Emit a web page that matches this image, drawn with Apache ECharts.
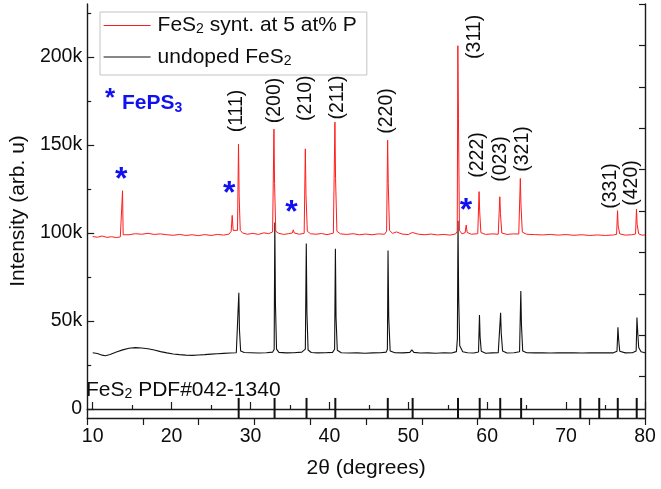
<!DOCTYPE html>
<html>
<head>
<meta charset="utf-8">
<script src="https://cdn.jsdelivr.net/npm/echarts@6/dist/echarts.min.js"></script>
<style>
  html, body { margin: 0; padding: 0; background: #fff; }
  #xrd-chart { width: 661px; height: 489px; }
</style>
</head>
<body>
<div id="xrd-chart"></div>
<script>
// 2theta (deg), intensity in thousands (k)
var redName = 'FeS2 synt. at 5 at% P';
var blackName = 'undoped FeS2';

var redData = [
  [10.0, 98.0], [10.6, 97.6], [11.2, 98.3], [11.8, 97.5], [12.4, 97.9], [13.0, 97.4], [13.5, 97.8],
  [13.7, 98.5], [13.78, 124.0], [13.86, 99.0], [14.0, 98.2], [14.6, 99.0], [15.4, 99.6], [16.2, 99.3],
  [17.0, 99.8], [17.8, 99.2], [18.6, 99.5], [19.4, 99.0], [20.2, 98.7], [21.0, 99.2], [21.8, 98.6],
  [22.6, 99.0], [23.4, 98.5], [24.2, 99.1], [25.0, 98.6], [25.8, 99.2], [26.6, 98.8], [27.3, 99.4],
  [27.55, 101.0], [27.68, 110.0], [27.8, 101.5], [28.0, 100.5], [28.35, 101.5], [28.48, 150.5], [28.56, 121.0],
  [28.7, 101.5], [29.0, 100.0], [29.6, 99.3], [30.3, 99.8], [31.0, 99.2], [31.7, 100.1], [32.3, 99.6],
  [32.8, 100.6], [32.97, 159.0], [33.05, 128.0], [33.2, 101.0], [33.6, 99.8], [34.2, 99.2], [34.8, 99.6],
  [35.3, 100.0], [35.42, 101.8], [35.55, 100.0], [36.2, 99.3], [36.8, 99.8], [36.95, 147.8], [37.03, 122.0],
  [37.2, 101.0], [37.6, 99.6], [38.3, 99.3], [39.0, 99.7], [39.7, 99.1], [40.5, 99.9], [40.7, 163.0],
  [40.78, 131.0], [40.95, 101.0], [41.4, 99.5], [42.2, 99.2], [43.0, 99.6], [43.8, 99.0], [44.6, 99.4],
  [45.4, 99.0], [46.2, 99.5], [47.0, 99.3], [47.25, 101.0], [47.38, 152.7], [47.46, 128.0], [47.62, 101.5],
  [48.0, 99.8], [48.5, 100.6], [49.2, 99.4], [50.0, 99.1], [50.5, 100.3], [51.3, 99.3], [52.1, 99.0],
  [52.9, 99.4], [53.7, 98.9], [54.5, 99.2], [55.3, 98.8], [56.0, 99.5], [56.2, 101.0], [56.28, 206.4],
  [56.36, 165.0], [56.48, 101.5], [56.8, 99.5], [57.2, 100.2], [57.34, 104.5], [57.46, 100.3], [58.0, 99.3],
  [58.8, 99.6], [58.97, 123.5], [59.05, 112.0], [59.2, 100.2], [59.8, 99.2], [60.6, 99.5], [61.4, 99.3],
  [61.6, 120.6], [61.68, 111.0], [61.85, 100.0], [62.5, 99.2], [63.3, 99.5], [64.0, 99.4], [64.2, 131.0],
  [64.28, 116.0], [64.45, 100.5], [65.0, 99.3], [66.0, 99.1], [67.0, 98.9], [68.0, 99.2], [69.0, 98.8],
  [70.0, 99.1], [71.0, 98.7], [72.0, 99.0], [73.0, 98.6], [74.0, 98.9], [75.0, 98.6], [76.0, 98.9],
  [76.4, 99.2], [76.52, 112.7], [76.6, 104.0], [76.8, 99.5], [77.5, 98.8], [78.3, 99.0], [78.8, 99.4],
  [78.92, 113.5], [79.0, 105.0], [79.2, 99.5], [79.6, 98.8], [80.0, 98.9]
];

var blackData = [
  [10.0, 32.0], [10.6, 31.5], [11.2, 30.6], [11.6, 30.3], [12.2, 31.0], [13.0, 32.4], [13.8, 33.6],
  [14.6, 34.5], [15.4, 34.9], [16.2, 34.7], [17.0, 34.2], [17.8, 33.5], [18.6, 32.6], [19.4, 31.9],
  [20.2, 31.3], [21.0, 30.9], [21.8, 30.6], [22.6, 30.5], [23.4, 30.7], [24.2, 30.9], [25.0, 31.2],
  [25.8, 31.4], [26.6, 31.6], [27.4, 31.8], [28.2, 32.0], [28.42, 33.0], [28.52, 66.0], [28.6, 45.0],
  [28.75, 33.0], [29.2, 32.1], [30.0, 32.0], [31.0, 31.8], [32.0, 32.0], [32.8, 32.3], [33.0, 34.0],
  [33.08, 106.0], [33.16, 60.0], [33.3, 34.0], [33.6, 32.2], [34.5, 31.9], [35.5, 32.0], [36.5, 32.3],
  [36.95, 34.0], [37.07, 94.0], [37.15, 55.0], [37.3, 33.5], [37.7, 32.1], [38.5, 31.9], [39.5, 32.0],
  [40.4, 32.2], [40.66, 34.0], [40.76, 91.0], [40.84, 52.0], [41.0, 33.4], [41.5, 32.0], [42.5, 31.8],
  [43.5, 31.9], [44.5, 31.7], [45.5, 31.9], [46.5, 32.0], [47.2, 32.3], [47.35, 34.0], [47.43, 90.0],
  [47.52, 52.0], [47.7, 33.0], [48.3, 32.0], [49.3, 31.9], [50.2, 32.2], [50.45, 33.6], [50.7, 32.2],
  [51.5, 31.8], [52.5, 31.9], [53.5, 31.7], [54.5, 32.0], [55.5, 31.8], [56.1, 32.6], [56.22, 40.0],
  [56.3, 107.0], [56.38, 64.0], [56.52, 36.0], [56.9, 32.5], [57.5, 32.0], [58.3, 31.8], [58.9, 32.4],
  [59.02, 53.4], [59.1, 41.0], [59.25, 32.8], [59.8, 31.7], [60.6, 31.9], [61.4, 32.0], [61.6, 33.0],
  [61.7, 54.7], [61.78, 43.0], [61.95, 33.0], [62.5, 31.8], [63.4, 32.0], [64.1, 32.5], [64.26, 67.0],
  [64.34, 48.0], [64.5, 33.0], [65.0, 32.0], [66.0, 31.9], [67.0, 32.0], [68.0, 31.8], [69.0, 32.0],
  [70.0, 31.9], [71.0, 32.0], [72.0, 31.8], [73.0, 32.0], [74.0, 31.9], [75.0, 32.0], [76.0, 31.9],
  [76.45, 32.8], [76.57, 46.4], [76.65, 40.0], [76.8, 32.8], [77.5, 31.9], [78.4, 32.0], [78.88, 33.0],
  [78.98, 52.0], [79.06, 45.0], [79.2, 35.0], [79.5, 32.5], [80.0, 32.0]
];

// reference pattern FeS2 PDF#042-1340 (stick positions)
var pdfPos = [28.5, 33.05, 37.1, 40.75, 47.4, 50.55, 56.3, 59.05, 61.65, 64.3, 71.8, 74.2, 76.55, 78.95];
var pdfTop = [6.3, 6.3, 6.3, 6.3, 6.3, 6.3, 6.3, 6.3, 6.3, 6.3, 6.3, 6.3, 6.3, 6.3];

// hkl labels (text centre)
var hklText = ['(111)', '(200)', '(210)', '(211)', '(220)', '(311)', '(222)', '(023)', '(321)', '(331)', '(420)'];
var hklX = [28.2, 33.0, 37.0, 41.0, 47.2, 58.4, 58.8, 61.7, 64.5, 75.6, 78.3];
var hklY = [169.3, 175.3, 176.6, 177.0, 169.3, 211.4, 144.3, 142.0, 147.7, 126.7, 128.4];

// FePS3 markers
var starX = [13.6, 27.3, 35.2, 57.3];
var starY = [134.0, 126.0, 115.3, 116.5];

var xTicks = [10, 20, 30, 40, 50, 60, 70, 80];
var xMinor = [15, 25, 35, 45, 55, 65, 75];
var yTicks = [0, 50, 100, 150, 200];
var yMinor = [25, 75, 125, 175, 225];

var xMin = 9.3, xMax = 80, yMin = -5.1, yMax = 230.1;

var font = 'Liberation Sans, Arial, sans-serif';
var blue = '#1010f0';
var ink = '#0d0d0d';
var frameColor = '#1a1a1a';

var legendRich = {
  n: { fontSize: 21, lineHeight: 22, fontFamily: font, color: ink },
  s: { fontSize: 14, lineHeight: 10, verticalAlign: 'bottom', fontFamily: font, color: ink }
};
var pdfRich = {
  n: { fontSize: 21, lineHeight: 22, fontFamily: font, fill: ink },
  s: { fontSize: 14, lineHeight: 10, verticalAlign: 'bottom', fontFamily: font, fill: ink }
};

var chart = echarts.init(document.getElementById('xrd-chart'));

var option = {
  animation: false,
  backgroundColor: '#fff',
  grid: { left: 82.5, right: 16, top: 4, bottom: 71 },
  legend: {
    data: [redName, blackName],
    orient: 'vertical',
    left: 100,
    top: 12,
    padding: [3, 10, 7, 3],
    itemWidth: 47,
    itemHeight: 22,
    itemGap: 10,
    borderColor: '#c4c4c4',
    borderWidth: 1,
    selectedMode: false,
    itemStyle: { opacity: 0 },
    lineStyle: { width: 1.2 },
    textStyle: { rich: legendRich, padding: [0, 0, 0, 2] },
    formatter: function (name) {
      if (name === redName) return '{n|FeS}{s|2}{n| synt. at 5 at% P}';
      return '{n|undoped FeS}{s|2}';
    }
  },
  xAxis: [
    {
      type: 'value', position: 'bottom', min: xMin, max: xMax,
      name: '2θ (degrees)', nameLocation: 'middle', nameGap: 40,
      nameTextStyle: { fontSize: 21, fontFamily: font, color: ink },
      axisLine: { show: true, lineStyle: { color: frameColor, width: 1.4 } },
      axisTick: { show: true, inside: true, length: 7, customValues: xTicks, lineStyle: { color: frameColor, width: 1.2 } },
      axisLabel: { customValues: xTicks, fontSize: 19.5, fontFamily: font, color: ink, margin: 9 },
      splitLine: { show: false }
    },
    {
      type: 'value', position: 'bottom', min: xMin, max: xMax,
      axisLine: { show: false },
      axisTick: { show: true, inside: true, length: 4, customValues: xMinor, lineStyle: { color: frameColor, width: 1.2 } },
      axisLabel: { show: false },
      splitLine: { show: false }
    },
    {
      type: 'value', position: 'top', min: 0, max: 10, interval: 1,
      axisLine: { show: true, lineStyle: { color: frameColor, width: 1.4 } },
      axisTick: { show: true, inside: true, length: 7, lineStyle: { color: frameColor, width: 1.2 } },
      axisLabel: { show: false },
      splitLine: { show: false }
    }
  ],
  yAxis: [
    {
      type: 'value', position: 'left', min: yMin, max: yMax,
      name: 'Intensity (arb. u)', nameLocation: 'middle', nameGap: 58,
      nameTextStyle: { fontSize: 21, fontFamily: font, color: ink },
      axisLine: { show: true, lineStyle: { color: frameColor, width: 1.4 } },
      axisTick: { show: true, inside: true, length: 7, customValues: yTicks, lineStyle: { color: frameColor, width: 1.2 } },
      axisLabel: {
        customValues: yTicks, fontSize: 19.5, fontFamily: font, color: ink, margin: 5,
        formatter: function (v) { return v === 0 ? '0' : v + 'k'; }
      },
      splitLine: { show: false }
    },
    {
      type: 'value', position: 'left', min: yMin, max: yMax,
      axisLine: { show: false },
      axisTick: { show: true, inside: true, length: 4, customValues: yMinor, lineStyle: { color: frameColor, width: 1.2 } },
      axisLabel: { show: false },
      splitLine: { show: false }
    },
    {
      type: 'value', position: 'right', min: 0, max: 10, interval: 1,
      axisLine: { show: true, lineStyle: { color: frameColor, width: 1.4 } },
      axisTick: { show: true, inside: true, length: 6, lineStyle: { color: frameColor, width: 1.2 } },
      axisLabel: { show: false },
      splitLine: { show: false }
    }
  ],
  series: [
    {
      name: blackName, type: 'line', xAxisIndex: 0, yAxisIndex: 0,
      data: blackData, symbol: 'none', silent: true,
      lineStyle: { color: '#111', width: 1.1 }, itemStyle: { color: '#111' }
    },
    {
      name: redName, type: 'line', xAxisIndex: 0, yAxisIndex: 0,
      data: redData, symbol: 'none', silent: true,
      lineStyle: { color: '#ff1c1c', width: 1 }, itemStyle: { color: '#ff1c1c' }
    },
    {
      name: 'PDF', type: 'custom', xAxisIndex: 0, yAxisIndex: 0, silent: true,
      data: pdfPos.map(function (p, i) { return [p, pdfTop[i]]; }),
      renderItem: function (params, api) {
        var top = api.coord([api.value(0), api.value(1)]);
        var bot = api.coord([api.value(0), yMin]);
        return {
          type: 'line',
          shape: { x1: top[0], y1: top[1], x2: bot[0], y2: bot[1] },
          style: { stroke: '#111', lineWidth: 2 }
        };
      }
    },
    {
      name: 'hkl', type: 'scatter', xAxisIndex: 0, yAxisIndex: 0, silent: true,
      symbolSize: 0,
      itemStyle: { opacity: 1 },
      data: hklText.map(function (t, i) { return [hklX[i], hklY[i], t]; }),
      label: {
        show: true, position: 'inside', rotate: 90, opacity: 1,
        formatter: function (p) { return p.data[2]; },
        fontSize: 19.5, fontFamily: font, color: ink
      }
    },
    {
      name: 'FePS3', type: 'scatter', xAxisIndex: 0, yAxisIndex: 0, silent: true,
      symbolSize: 0,
      itemStyle: { opacity: 1 },
      data: starX.map(function (x, i) { return [x, starY[i]]; }),
      label: {
        show: true, position: 'inside', formatter: '*', offset: [0, 7], opacity: 1,
        fontSize: 32, fontWeight: 'bold', fontFamily: font, color: blue
      }
    }
  ],
  graphic: [
    {
      type: 'text', left: 105, top: 86, silent: true,
      style: { text: '*', fontSize: 26, fontWeight: 'bold', fontFamily: font, fill: blue }
    },
    {
      type: 'text', left: 122, top: 93, silent: true,
      style: {
        text: '{b|FePS}{s|3}',
        rich: {
          b: { fontSize: 21, lineHeight: 23, fontWeight: 'bold', fontFamily: font, fill: blue },
          s: { fontSize: 14, lineHeight: 10, verticalAlign: 'bottom', fontWeight: 'bold', fontFamily: font, fill: blue }
        }
      }
    },
    {
      type: 'text', left: 86, top: 380, silent: true,
      style: {
        text: '{n|FeS}{s|2}{n| PDF#042-1340}',
        rich: pdfRich
      }
    }
  ]
};

chart.setOption(option);
</script>
</body>
</html>
